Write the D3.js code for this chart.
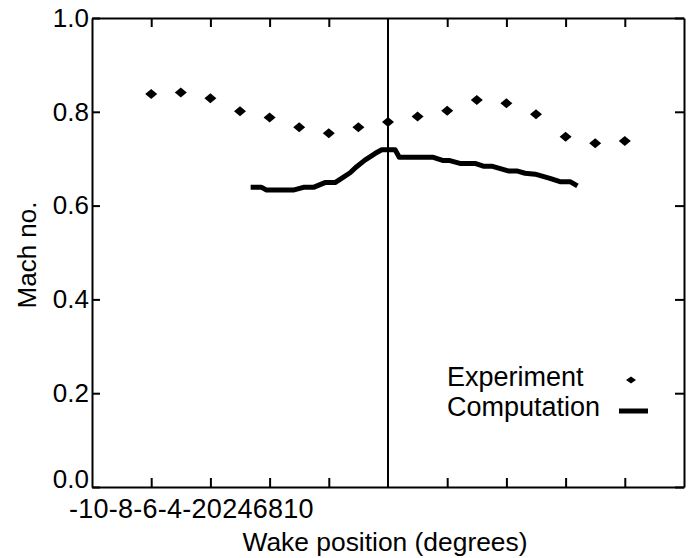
<!DOCTYPE html>
<html>
<head>
<meta charset="utf-8">
<script src="https://cdn.jsdelivr.net/npm/d3@7"></script>
<style>
  html, body { margin: 0; padding: 0; background: #fff; }
  svg { display: block; font-family: "Liberation Sans", Arial, Helvetica, sans-serif; }
</style>
</head>
<body>
<svg id="chart" width="694" height="558"></svg>
<script>
// ---- data ----
const expX = [-8, -7, -6, -5, -4, -3, -2, -1, 0, 1, 2, 3, 4, 5, 6, 7, 8];
const expY = [0.838, 0.841, 0.829, 0.801, 0.788, 0.767, 0.754, 0.767, 0.778, 0.790, 0.802, 0.825, 0.818, 0.795, 0.747, 0.733, 0.738];

const compX = [-4.64, -4.27, -4.10, -3.20, -2.86, -2.52, -2.13, -1.79, -1.62, -1.28, -1.06, -0.78, -0.44, -0.21, 0.24, 0.38, 1.53, 1.87, 2.09, 2.43, 2.94, 3.22, 3.50, 4.06, 4.35, 4.63, 4.97, 5.47, 5.81, 6.15, 6.40];
const compY = [0.639, 0.639, 0.633, 0.633, 0.639, 0.639, 0.649, 0.649, 0.656, 0.670, 0.683, 0.697, 0.711, 0.719, 0.719, 0.703, 0.703, 0.696, 0.696, 0.690, 0.690, 0.684, 0.684, 0.674, 0.674, 0.669, 0.667, 0.658, 0.651, 0.651, 0.642];

const xTickValues = [-8, -6, -4, -2, 2, 4, 6, 8];
const xTickLabels = ["-10", "-8", "-6", "-4", "-2", "0", "2", "4", "6", "8", "10"];
const yTickValues = [0, 0.2, 0.4, 0.6, 0.8, 1.0];
const seriesNames = ["Experiment", "Computation"];
const xTitle = "Wake position (degrees)";
const yTitle = "Mach no.";

// ---- layout ----
const svg = d3.select("#chart");
const pL = 92, pR = 684, pT = 18, pB = 487;
const x = d3.scaleLinear().domain([-10, 10]).range([pL, pR]);
const y = d3.scaleLinear().domain([0, 1]).range([pB, pT]);
const FS = 26;

function styleAxis(g) {
  g.select(".domain").attr("stroke", "#000").attr("stroke-width", 2);
  g.selectAll(".tick line").attr("stroke", "#000").attr("stroke-width", 2);
  g.selectAll(".tick text").attr("fill", "#000").style("font-size", FS + "px");
}

// bottom axis (inward ticks, no labels)
svg.append("g").attr("transform", `translate(0,${pB})`)
  .call(d3.axisBottom(x).tickValues(xTickValues).tickSizeInner(-9).tickSizeOuter(0).tickFormat(""))
  .call(styleAxis);
// top axis
svg.append("g").attr("transform", `translate(0,${pT})`)
  .call(d3.axisTop(x).tickValues(xTickValues).tickSizeInner(-9).tickSizeOuter(0).tickFormat(""))
  .call(styleAxis);
// left axis with labels
const gl = svg.append("g").attr("transform", `translate(${pL},0)`)
  .call(d3.axisLeft(y).tickValues(yTickValues).tickSizeInner(-8).tickSizeOuter(0).tickPadding(3).tickFormat(d3.format(".1f")))
  .call(styleAxis);
gl.selectAll(".tick text").filter(d => d === 0).attr("dy", "0em");
// right axis
svg.append("g").attr("transform", `translate(${pR},0)`)
  .call(d3.axisRight(y).tickValues(yTickValues).tickSizeInner(-9).tickSizeOuter(0).tickFormat(""))
  .call(styleAxis);

// crammed x tick labels
const tl = svg.append("text").attr("x", 69).attr("y", 518)
  .style("font-size", "27px").style("letter-spacing", "0.25px").attr("fill", "#000");
tl.selectAll("tspan").data(xTickLabels).join("tspan").text(d => d);

// zero line
svg.append("line")
  .attr("x1", x(0)).attr("x2", x(0)).attr("y1", y(0)).attr("y2", y(1))
  .attr("stroke", "#000").attr("stroke-width", 2);

// computation line
const line = d3.line().x(d => x(d[0])).y(d => y(d[1]));
svg.append("path")
  .datum(compX.map((v, i) => [v, compY[i]]))
  .attr("d", line)
  .attr("fill", "none").attr("stroke", "#000").attr("stroke-width", 5)
  .attr("stroke-linejoin", "round");

// experiment diamonds
const diamond = (w, h) => `M${-w},0L0,${-h}L${w},0L0,${h}Z`;
svg.append("g").selectAll("path")
  .data(expX.map((v, i) => [v, expY[i]]))
  .join("path")
  .attr("transform", d => `translate(${x(d[0])},${y(d[1])})`)
  .attr("d", diamond(6, 5))
  .attr("fill", "#000");

// axis titles
svg.append("text").attr("x", 385).attr("y", 551).attr("text-anchor", "middle")
  .style("font-size", "26.4px").attr("fill", "#000").text(xTitle);
svg.append("text").attr("transform", "translate(36,255) rotate(-90)").attr("text-anchor", "middle")
  .style("font-size", FS + "px").attr("fill", "#000").text(yTitle);

// legend
svg.append("text").attr("x", 447).attr("y", 386).style("font-size", "27px").attr("fill", "#000").text(seriesNames[0]);
svg.append("text").attr("x", 447).attr("y", 416).style("font-size", "27px").attr("fill", "#000").text(seriesNames[1]);
svg.append("path").attr("transform", "translate(631,380)").attr("d", diamond(5, 3.5)).attr("fill", "#000");
svg.append("line").attr("x1", 619).attr("x2", 648).attr("y1", 411).attr("y2", 411)
  .attr("stroke", "#000").attr("stroke-width", 5);
</script>
</body>
</html>
